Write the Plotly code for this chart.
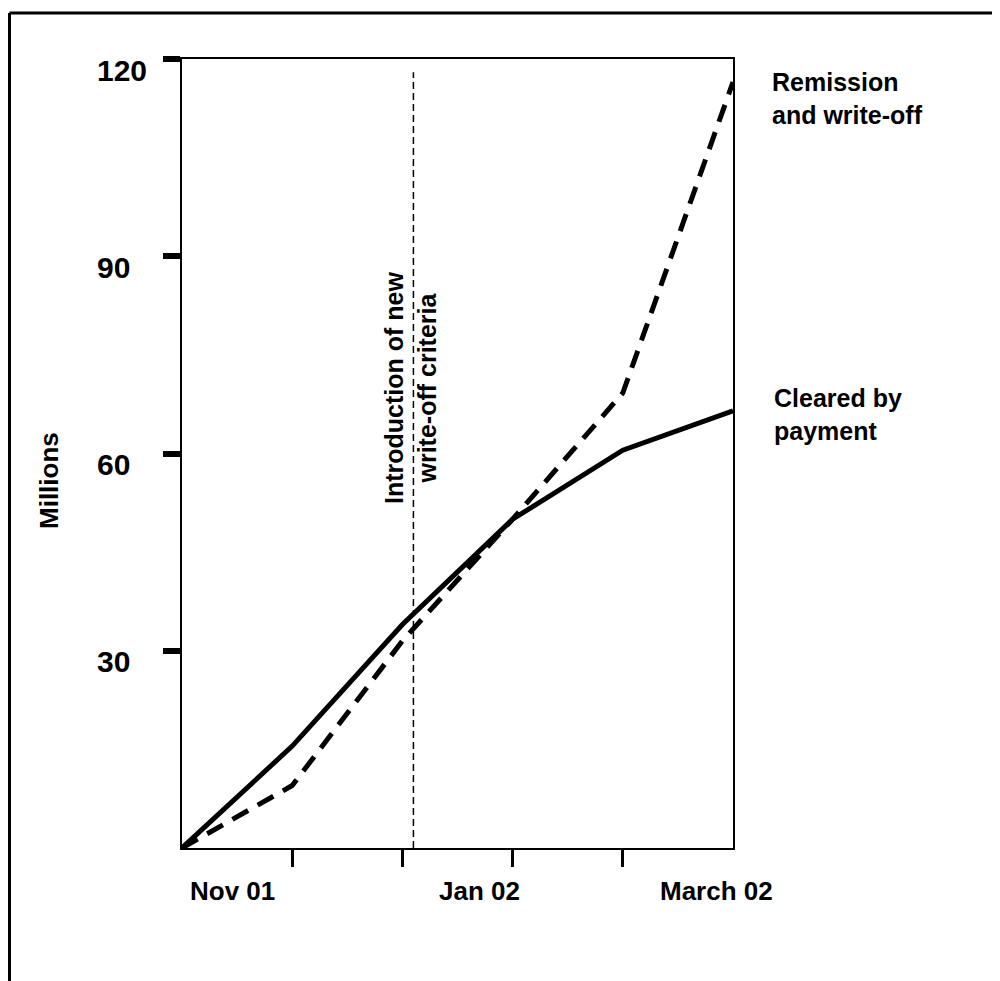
import plotly.graph_objects as go

# ---- data ----
x_positions = [0, 1, 2, 3, 4, 5]
cleared_by_payment = [0, 15.5, 34, 50, 60.5, 66.5]
remission_write_off = [0, 9.5, 31.5, 50, 69.2, 116.5]
x_label_text = ["Nov 01", "Jan 02", "March 02"]
x_label_pos = [0.46, 2.70, 4.85]
x_tick_vals = [1, 2, 3, 4]
y_tick_vals = [30, 60, 90, 120]
y_tick_text = ["30", "60", "90", "120"]
criteria_x = [2.1, 2.1]
criteria_y = [0, 118]

FONT = "Liberation Sans, Arial, sans-serif"

fig = go.Figure()
fig.add_trace(go.Scatter(x=criteria_x, y=criteria_y, mode="lines",
                         line=dict(color="black", width=1.5, dash="7px,4px"),
                         showlegend=False, hoverinfo="skip"))
fig.add_trace(go.Scatter(x=x_positions, y=cleared_by_payment, mode="lines",
                         line=dict(color="black", width=5),
                         name="Cleared by payment", showlegend=False))
fig.add_trace(go.Scatter(x=x_positions, y=remission_write_off, mode="lines",
                         line=dict(color="black", width=5, dash="18px,11px"),
                         name="Remission and write-off", showlegend=False))

OFF = 8  # page body margin offset
L, R, T, B = 182 - OFF, 733 - OFF, 59 - OFF, 848 - OFF
W, H = 1000, 981
pw, ph = R - L, B - T
def px(x):
    return (x - OFF - L) / pw
def py(y):
    return (B - (y - OFF)) / ph

fig.update_layout(
    width=W, height=H,
    margin=dict(l=L, r=W - R, t=T, b=H - B, pad=0),
    plot_bgcolor="white", paper_bgcolor="white",
    font=dict(family=FONT, color="black"),
    xaxis=dict(range=[0, 5], showgrid=False, zeroline=False,
               showline=True, linecolor="black", linewidth=2, mirror=True,
               tickmode="array", tickvals=x_tick_vals, ticktext=[""] * len(x_tick_vals),
               ticks="outside", ticklen=17, tickwidth=3, tickcolor="black"),
    yaxis=dict(range=[0, 120], showgrid=False, zeroline=False,
               showline=True, linecolor="black", linewidth=2, mirror=True,
               tickmode="array", tickvals=y_tick_vals, showticklabels=False,
               ticks="outside", ticklen=17, tickwidth=6, tickcolor="black"),
)

ann = []
for v, t in zip(y_tick_vals, y_tick_text):
    ann.append(dict(x=px(95), xref="paper", y=v, yref="y", yshift=-11,
                    text="<b>%s</b>" % t, showarrow=False, xanchor="left",
                    yanchor="middle", font=dict(size=30, family=FONT)))
for xv, t in zip(x_label_pos, x_label_text):
    ann.append(dict(x=xv, xref="x", y=py(891), yref="paper",
                    text="<b>%s</b>" % t, showarrow=False, xanchor="center",
                    yanchor="middle", font=dict(size=26, family=FONT)))
ann.append(dict(x=px(49), xref="paper", y=py(481), yref="paper",
                text="<b>Millions</b>", textangle=-90, showarrow=False,
                xanchor="center", yanchor="middle", font=dict(size=26, family=FONT)))
ann.append(dict(x=px(410), xref="paper", y=py(388), yref="paper",
                text="<b>Introduction of new<br>write-off criteria</b>", textangle=-90,
                showarrow=False, xanchor="center", yanchor="middle", align="center",
                font=dict(size=25, family=FONT)))
ann.append(dict(x=px(770), xref="paper", y=py(66), yref="paper",
                text="<b>Remission<br>and write-off</b>", showarrow=False,
                xanchor="left", yanchor="top", align="left",
                font=dict(size=25, family=FONT)))
ann.append(dict(x=px(772), xref="paper", y=py(382), yref="paper",
                text="<b>Cleared by<br>payment</b>", showarrow=False,
                xanchor="left", yanchor="top", align="left",
                font=dict(size=25, family=FONT)))
fig.update_layout(annotations=ann)

# outer frame (left and top edges visible)
fig.add_shape(type="line", xref="paper", yref="paper",
              x0=px(9.5), x1=px(1010), y0=py(13), y1=py(13),
              line=dict(color="black", width=3))
fig.add_shape(type="line", xref="paper", yref="paper",
              x0=px(9.5), x1=px(9.5), y0=py(13), y1=py(1000),
              line=dict(color="black", width=3))

fig.write_html("out.html")
